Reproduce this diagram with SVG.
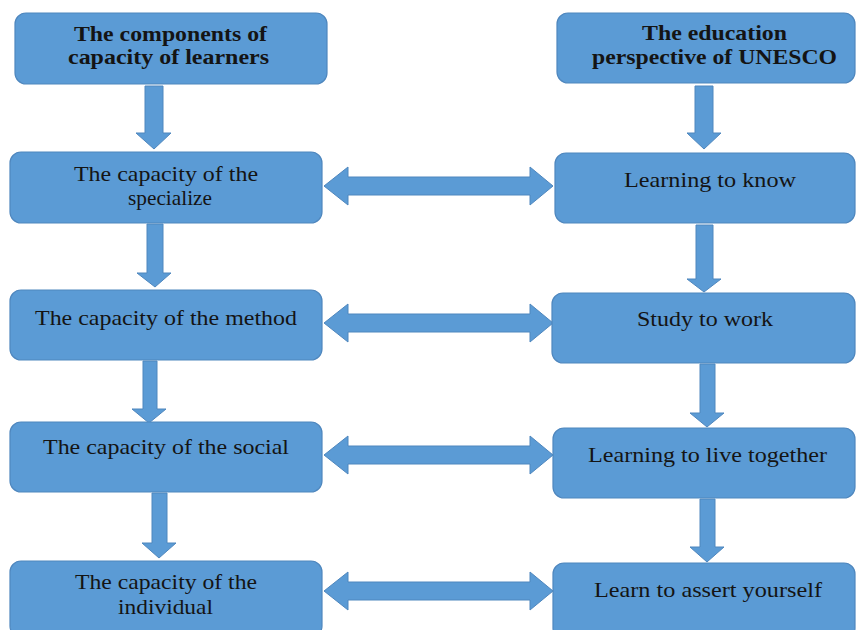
<svg xmlns="http://www.w3.org/2000/svg" width="856" height="630" viewBox="0 0 856 630">
<style>
.box{fill:#5B9BD5;stroke:#4F87BE;stroke-width:1.2}
.arr{fill:#5B9BD5;stroke:#4F87BE;stroke-width:1}
text{font-family:"Liberation Serif","Times New Roman",serif;font-size:21px;fill:#141414;text-anchor:start}
.b{font-weight:bold}
</style>
<rect width="856" height="630" fill="#ffffff"/>
<g id="connectors">
<path class="arr" d="M145,86 H163 V133 H171 L154,149 L136,133 H145 Z"/>
<path class="arr" d="M147,224 H163 V273 H171 L155,287 L137,273 H147 Z"/>
<path class="arr" d="M143,361 H157 V409 H166 L149,423 L132,409 H143 Z"/>
<path class="arr" d="M152,493 H167 V543 H176 L159,558 L142,543 H152 Z"/>
<path class="arr" d="M695,86 H713 V133 H721 L704,149 L687,133 H695 Z"/>
<path class="arr" d="M696,225 H713 V279 H721 L704,292 L687,279 H696 Z"/>
<path class="arr" d="M700,364 H715 V413 H724 L707,427 L690,413 H700 Z"/>
<path class="arr" d="M700,499 H715 V547 H724 L707,562 L690,547 H700 Z"/>
<path class="arr" d="M324,186 L348,167 V177 H530 V167 L553,186 L530,205 V195 H348 V205 Z"/>
<path class="arr" d="M324,323 L348,304 V314 H530 V304 L553,323 L530,342 V332 H348 V342 Z"/>
<path class="arr" d="M324,455 L348,436 V446 H530 V436 L553,455 L530,474 V464 H348 V474 Z"/>
<path class="arr" d="M324,591 L348,572 V582 H530 V572 L553,591 L530,610 V600 H348 V610 Z"/>
</g>
<g id="n-components">
<rect class="box" x="15" y="13" width="312" height="71" rx="11"/>
<text class="b" x="74" y="41" textLength="193" lengthAdjust="spacingAndGlyphs">The components of</text>
<text class="b" x="68" y="64" textLength="201" lengthAdjust="spacingAndGlyphs">capacity of learners</text>
</g>
<g id="n-specialize">
<rect class="box" x="10" y="152" width="312" height="71" rx="11"/>
<text x="74" y="181" textLength="184" lengthAdjust="spacingAndGlyphs">The capacity of the</text>
<text x="128" y="205" textLength="84" lengthAdjust="spacingAndGlyphs">specialize</text>
</g>
<g id="n-method">
<rect class="box" x="10" y="290" width="312" height="70" rx="11"/>
<text x="35" y="325" textLength="262" lengthAdjust="spacingAndGlyphs">The capacity of the method</text>
</g>
<g id="n-social">
<rect class="box" x="10" y="422" width="312" height="70" rx="11"/>
<text x="43" y="454" textLength="246" lengthAdjust="spacingAndGlyphs">The capacity of the social</text>
</g>
<g id="n-individual">
<rect class="box" x="10" y="561" width="312" height="76" rx="11"/>
<text x="75" y="589" textLength="182" lengthAdjust="spacingAndGlyphs">The capacity of the</text>
<text x="118" y="614" textLength="95" lengthAdjust="spacingAndGlyphs">individual</text>
</g>
<g id="n-unesco">
<rect class="box" x="557" y="13" width="298" height="70" rx="11"/>
<text class="b" x="642" y="40" textLength="145" lengthAdjust="spacingAndGlyphs">The education</text>
<text class="b" x="592" y="64" textLength="245" lengthAdjust="spacingAndGlyphs">perspective of UNESCO</text>
</g>
<g id="n-know">
<rect class="box" x="555" y="153" width="300" height="70" rx="11"/>
<text x="624" y="187" textLength="172" lengthAdjust="spacingAndGlyphs">Learning to know</text>
</g>
<g id="n-work">
<rect class="box" x="552" y="293" width="303" height="70" rx="11"/>
<text x="637" y="326" textLength="136" lengthAdjust="spacingAndGlyphs">Study to work</text>
</g>
<g id="n-together">
<rect class="box" x="553" y="428" width="302" height="70" rx="11"/>
<text x="588" y="462" textLength="239" lengthAdjust="spacingAndGlyphs">Learning to live together</text>
</g>
<g id="n-assert">
<rect class="box" x="553" y="563" width="302" height="76" rx="11"/>
<text x="594" y="597" textLength="228" lengthAdjust="spacingAndGlyphs">Learn to assert yourself</text>
</g>
</svg>
